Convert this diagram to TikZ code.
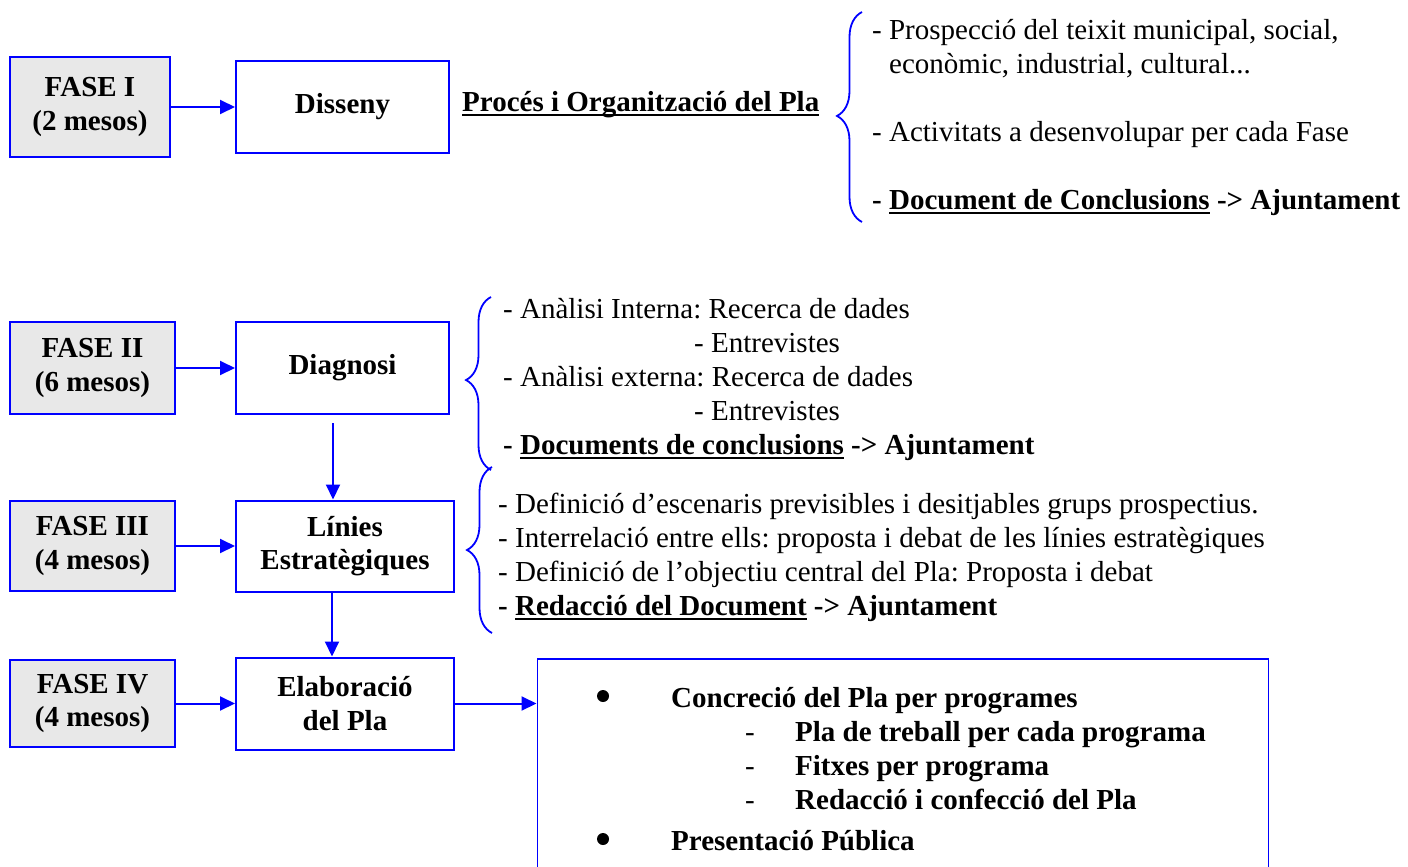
\documentclass[tikz,border=0pt]{standalone}
\usepackage{fontspec}
\setmainfont{Liberation Serif}
\usepackage{tikz}
\usetikzlibrary{arrows.meta, positioning, decorations.pathreplacing}
\definecolor{faseblue}{RGB}{0,0,255}
\definecolor{fasegray}{RGB}{232,232,232}
\frenchspacing
\newsavebox{\docbox}
\newcommand{\Doc}[1]{\sbox{\docbox}{#1}\rlap{\rule[-4.8pt]{\wd\docbox}{1.8pt}}\usebox{\docbox}}
\tikzset{
    fase/.style={draw=faseblue, fill=fasegray, line width=2pt, align=center, inner sep=0pt,
      font=\fontsize{29}{33.5}\selectfont\bfseries},
    etapa/.style={draw=faseblue, line width=2pt, align=center, inner sep=0pt,
      font=\fontsize{29}{33.5}\selectfont\bfseries},
    arr/.style={draw=faseblue, line width=2pt, -{Triangle[length=15pt, width=14pt]}},
    clau/.style={draw=faseblue, line width=1.8pt, decorate, decoration={brace, amplitude=25pt, #1}},
    txt/.style={anchor=base west, inner sep=0pt, font=\fontsize{29}{34}\selectfont},
    txtb/.style={anchor=base west, inner sep=0pt, font=\fontsize{29}{34}\selectfont\bfseries},
    punt/.style={circle, fill=black, inner sep=0pt, minimum size=12pt},
}
\begin{document}
\begin{tikzpicture}[x=1pt, y=-1pt]
    \useasboundingbox (0,0) rectangle (1408,867);
    \clip (0,0) rectangle (1408,867);

    \node[fase, minimum width=160, minimum height=100] (f1) at (90,107) {FASE I\\(2 mesos)};
    \node[etapa, minimum width=213, minimum height=92, right=64pt of f1] (d1) {Disseny};

    \node[fase, minimum width=165, minimum height=92] (f2) at (92.5,368) {FASE II\\(6 mesos)};
    \node[etapa, minimum width=213, minimum height=92, right=59pt of f2] (d2) {Diagnosi};

    \node[fase, minimum width=165, minimum height=90] (f3) at (92.5,546) {FASE III\\(4 mesos)};
    \node[etapa, minimum width=218, minimum height=91, right=59pt of f3] (d3) {Línies\\Estratègiques};

    \node[fase, minimum width=165, minimum height=87] (f4) at (92.5,703.5) {FASE IV\\(4 mesos)};
    \node[etapa, minimum width=218, minimum height=92, right=59pt of f4] (d4) {Elaboració\\del Pla};

    \node[draw=faseblue, line width=1.6pt, minimum width=731, minimum height=240, inner sep=0pt,
      anchor=north west] (plan) at (536.5,658) {};

    \draw[arr] (f1.east) -- (f1.east -| d1.west);
    \draw[arr] (f2.east) -- (f2.east -| d2.west);
    \draw[arr] (f3.east) -- (f3.east -| d3.west);
    \draw[arr] (f4.east) -- (f4.east -| d4.west);
    \draw[arr, shorten <=8pt] ([xshift=-9.5pt]d2.south) -- ([xshift=-9.5pt]d2.south |- d3.north);
    \draw[arr] ([xshift=-13pt]d3.south) -- ([xshift=-13pt]d3.south |- d4.north);
    \draw[arr] (d4.east) -- (d4.east -| plan.west);

    \node[txtb] (proces) at (462,111) {\Doc{Procés i Organització del Pla}};
    \draw[clau={aspect=0.505}] (862,222) -- (862,12);
    \node[txt] (p1) at (872,40) {- Prospecció del teixit municipal, social,};
    \node[txt] (p2) at (889,74) {econòmic, industrial, cultural...};
    \node[txt] (p3) at (872,141) {- Activitats a desenvolupar per cada Fase};
    \node[txtb] (p4) at (872,209) {- \Doc{Document de Conclusions} -> Ajuntament};

    \draw[clau={aspect=0.52}] (491,470) -- (491,297);
    \node[txt] (a1) at (503,318) {- Anàlisi Interna: Recerca de dades};
    \node[txt] (a2) at (694,352) {- Entrevistes};
    \node[txt] (a3) at (503,386) {- Anàlisi externa: Recerca de dades};
    \node[txt] (a4) at (694,420) {- Entrevistes};
    \node[txtb] (a5) at (503,454) {- \Doc{Documents de conclusions} -> Ajuntament};

    \draw[clau={aspect=0.5}] (492,633) -- (492,467);
    \node[txt] (l1) at (498,513) {- Definició d’escenaris previsibles i desitjables grups prospectius.};
    \node[txt] (l2) at (498,547) {- Interrelació entre ells: proposta i debat de les línies estratègiques};
    \node[txt] (l3) at (498,581) {- Definició de l’objectiu central del Pla: Proposta i debat};
    \node[txtb] (l4) at (498,615) {- \Doc{Redacció del Document} -> Ajuntament};

    \node[punt] (b1) at (603,696) {};
    \node[txtb] (e1) at (671,707) {Concreció del Pla per programes};
    \node[txt] (m1) at (745,741) {-};
    \node[txtb] (e2) at (795,741) {Pla de treball per cada programa};
    \node[txt] (m2) at (745,775) {-};
    \node[txtb] (e3) at (795,775) {Fitxes per programa};
    \node[txt] (m3) at (745,809) {-};
    \node[txtb] (e4) at (795,809) {Redacció i confecció del Pla};
    \node[punt] (b2) at (603,839) {};
    \node[txtb] (e5) at (671,850) {Presentació Pública};
\end{tikzpicture}
\end{document}
